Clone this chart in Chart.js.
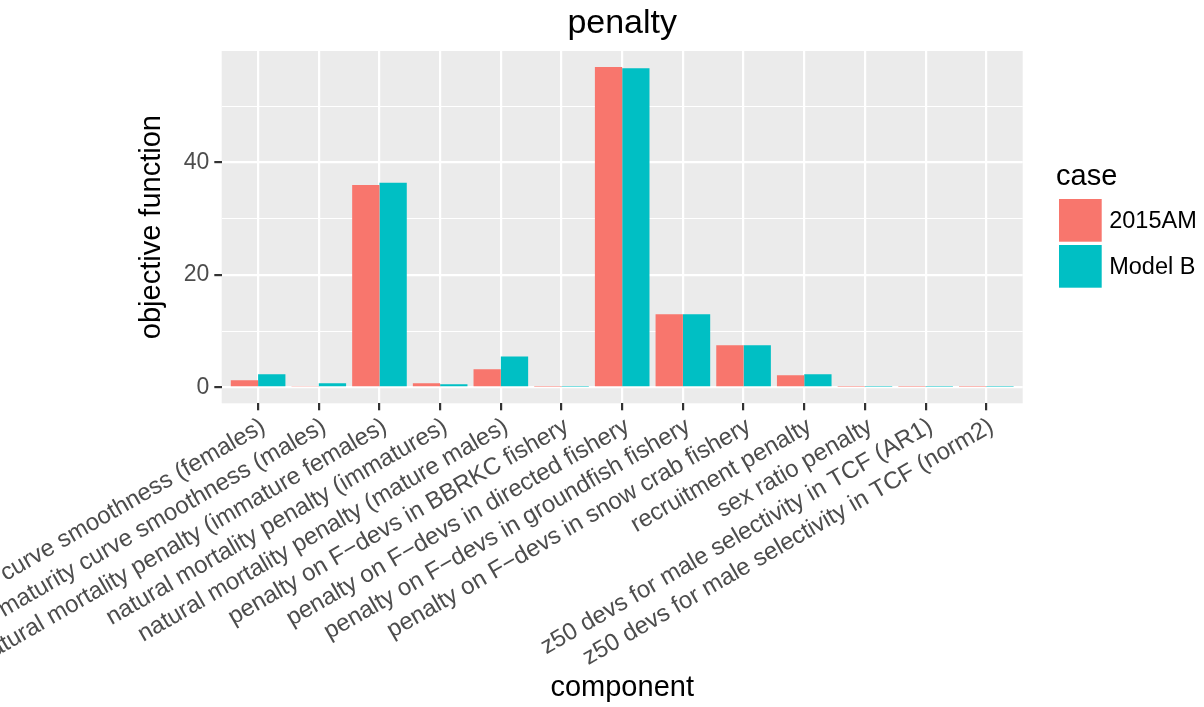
<!DOCTYPE html>
<html>
<head>
<meta charset="utf-8">
<script src="https://cdn.jsdelivr.net/npm/chart.js@4"></script>
<style>
  html, body { margin: 0; padding: 0; background: #ffffff; }
  canvas { display: block; }
</style>
</head>
<body>
<canvas id="penaltyChart" width="1204" height="707"></canvas>
<script>

/* ===== data ===== */

const categories = [
  "maturity curve smoothness (females)",
  "maturity curve smoothness (males)",
  "natural mortality penalty (immature females)",
  "natural mortality penalty (immatures)",
  "natural mortality penalty (mature males)",
  "penalty on F\u2212devs in BBRKC fishery",
  "penalty on F\u2212devs in directed fishery",
  "penalty on F\u2212devs in groundfish fishery",
  "penalty on F\u2212devs in snow crab fishery",
  "recruitment penalty",
  "sex ratio penalty",
  "z50 devs for male selectivity in TCF (AR1)",
  "z50 devs for male selectivity in TCF (norm2)"
]

const caseNames = ["2015AM", "Model B"]

const values2015AM = [1.25, 0.25, 36.0, 0.7, 3.2, 0.08, 57.0, 13.0, 7.5, 2.15, 0.08, 0.08, 0.08]

const valuesModelB = [2.3, 0.7, 36.4, 0.55, 5.5, 0.08, 56.8, 13.0, 7.5, 2.3, 0.08, 0.08, 0.08]

const yTickValues = [0, 10, 20, 30, 40, 50]

const yMin = -2.85
const yMax = 59.85


/* ===== styles ===== */

const FONT = '"Liberation Sans", Arial, Helvetica, sans-serif'
const caseColors = ["#F8766D", "#00BFC4"]
const XLABEL_SIZE = 24
const YLABEL_SIZE = 23
const LEGEND_SIZE = 23.5
const TITLE_SIZE = 29

const isMajor = v => v % 20 === 0


/* ===== plugins ===== */

const panelBackground = {
  id: "panelBackground",
  beforeDraw(chart) {
    const { ctx, chartArea: a } = chart
    ctx.save()
    ctx.fillStyle = "#EBEBEB"
    ctx.fillRect(a.left, a.top, a.right - a.left, a.bottom - a.top)
    ctx.restore()
  }
}

const rotatedXLabels = {
  id: "rotatedXLabels",
  afterDraw(chart) {
    const { ctx, chartArea } = chart
    const xs = chart.scales.x
    ctx.save()
    ctx.font = XLABEL_SIZE + "px " + FONT
    ctx.fillStyle = "#4D4D4D"
    ctx.textAlign = "right"
    ctx.textBaseline = "alphabetic"
    xs.ticks.forEach((t, i) => {
      ctx.save()
      ctx.translate(xs.getPixelForTick(i), chartArea.bottom + 12.2)
      ctx.rotate(-Math.PI / 6)
      ctx.fillText(categories[t.value], 0, 0.72 * XLABEL_SIZE)
      ctx.restore()
    })
    ctx.restore()
  }
}

const caseLegend = {
  id: "caseLegend",
  afterDraw(chart) {
    const { ctx, chartArea } = chart
    const x0 = chartArea.right + 36.3
    const keySize = 42.7
    ctx.save()
    ctx.fillStyle = "#000000"
    ctx.textAlign = "left"
    ctx.textBaseline = "alphabetic"
    ctx.font = TITLE_SIZE + "px " + FONT
    ctx.fillText("case", x0 - 3, 185)
    ctx.font = LEGEND_SIZE + "px " + FONT
    chart.data.datasets.forEach((ds, i) => {
      const top = 199 + i * 46
      ctx.fillStyle = ds.backgroundColor
      ctx.fillRect(x0, top, keySize, keySize)
      ctx.fillStyle = "#000000"
      ctx.textBaseline = "middle"
      ctx.fillText(ds.label, x0 + keySize + 7.5, top + keySize / 2 + 1)
    })
    ctx.restore()
  }
}


/* ===== chart ===== */

const ctx = document.getElementById("penaltyChart").getContext("2d")

new Chart(ctx, {

  type: "bar",

  data: {
    labels: categories,
    datasets: [
      {
        label: caseNames[0],
        data: values2015AM,
        backgroundColor: caseColors[0],
        borderWidth: 0
      },
      {
        label: caseNames[1],
        data: valuesModelB,
        backgroundColor: caseColors[1],
        borderWidth: 0
      }
    ]
  },

  options: {
    responsive: false,
    animation: false,
    devicePixelRatio: 1,
    categoryPercentage: 0.9,
    barPercentage: 1.0,

    layout: {
      padding: { left: 130, right: 181.3, top: 0, bottom: 0 }
    },

    plugins: {
      legend: { display: false },
      tooltip: { enabled: false },
      title: {
        display: true,
        text: "penalty",
        fullSize: false,
        color: "#000000",
        font: { family: FONT, size: 34, weight: "normal" },
        padding: { top: 3, bottom: 7.2 }
      }
    },

    scales: {

      x: {
        type: "category",
        offset: true,
        afterBuildTicks: s => {
          // ggplot puts 0.6 of a step between the panel edge and the first bar group
          s._startValue = -0.6
          s._valueRange = categories.length + 0.2
        },
        afterFit: s => { s.height = 303.7 },
        border: { display: false },
        grid: {
          offset: false,
          color: "#FFFFFF",
          lineWidth: 2.2,
          drawTicks: true,
          tickLength: 7,
          tickColor: "#333333",
          tickWidth: 2.2
        },
        ticks: { display: false },
        title: {
          display: true,
          text: "component",
          color: "#000000",
          font: { family: FONT, size: TITLE_SIZE },
          padding: { top: 0, bottom: 2 }
        }
      },

      y: {
        min: yMin,
        max: yMax,
        afterBuildTicks: s => {
          s.ticks = yTickValues.map(v => ({ value: v }))
        },
        afterFit: s => { s.width = 91.7 },
        border: { display: false },
        grid: {
          color: "#FFFFFF",
          lineWidth: c => (c.tick && isMajor(c.tick.value)) ? 2.2 : 1.1,
          drawTicks: true,
          tickLength: 7.4,
          tickColor: c => (c.tick && isMajor(c.tick.value)) ? "#333333" : "rgba(0,0,0,0)",
          tickWidth: 2.2
        },
        ticks: {
          color: "#4D4D4D",
          font: { family: FONT, size: YLABEL_SIZE },
          padding: 5,
          callback: v => isMajor(v) ? String(v) : ""
        },
        title: {
          display: true,
          text: "objective function",
          color: "#000000",
          font: { family: FONT, size: TITLE_SIZE },
          padding: { top: 5, bottom: 0 }
        }
      }
    }
  },

  plugins: [panelBackground, rotatedXLabels, caseLegend]

})

</script>
</body>
</html>
